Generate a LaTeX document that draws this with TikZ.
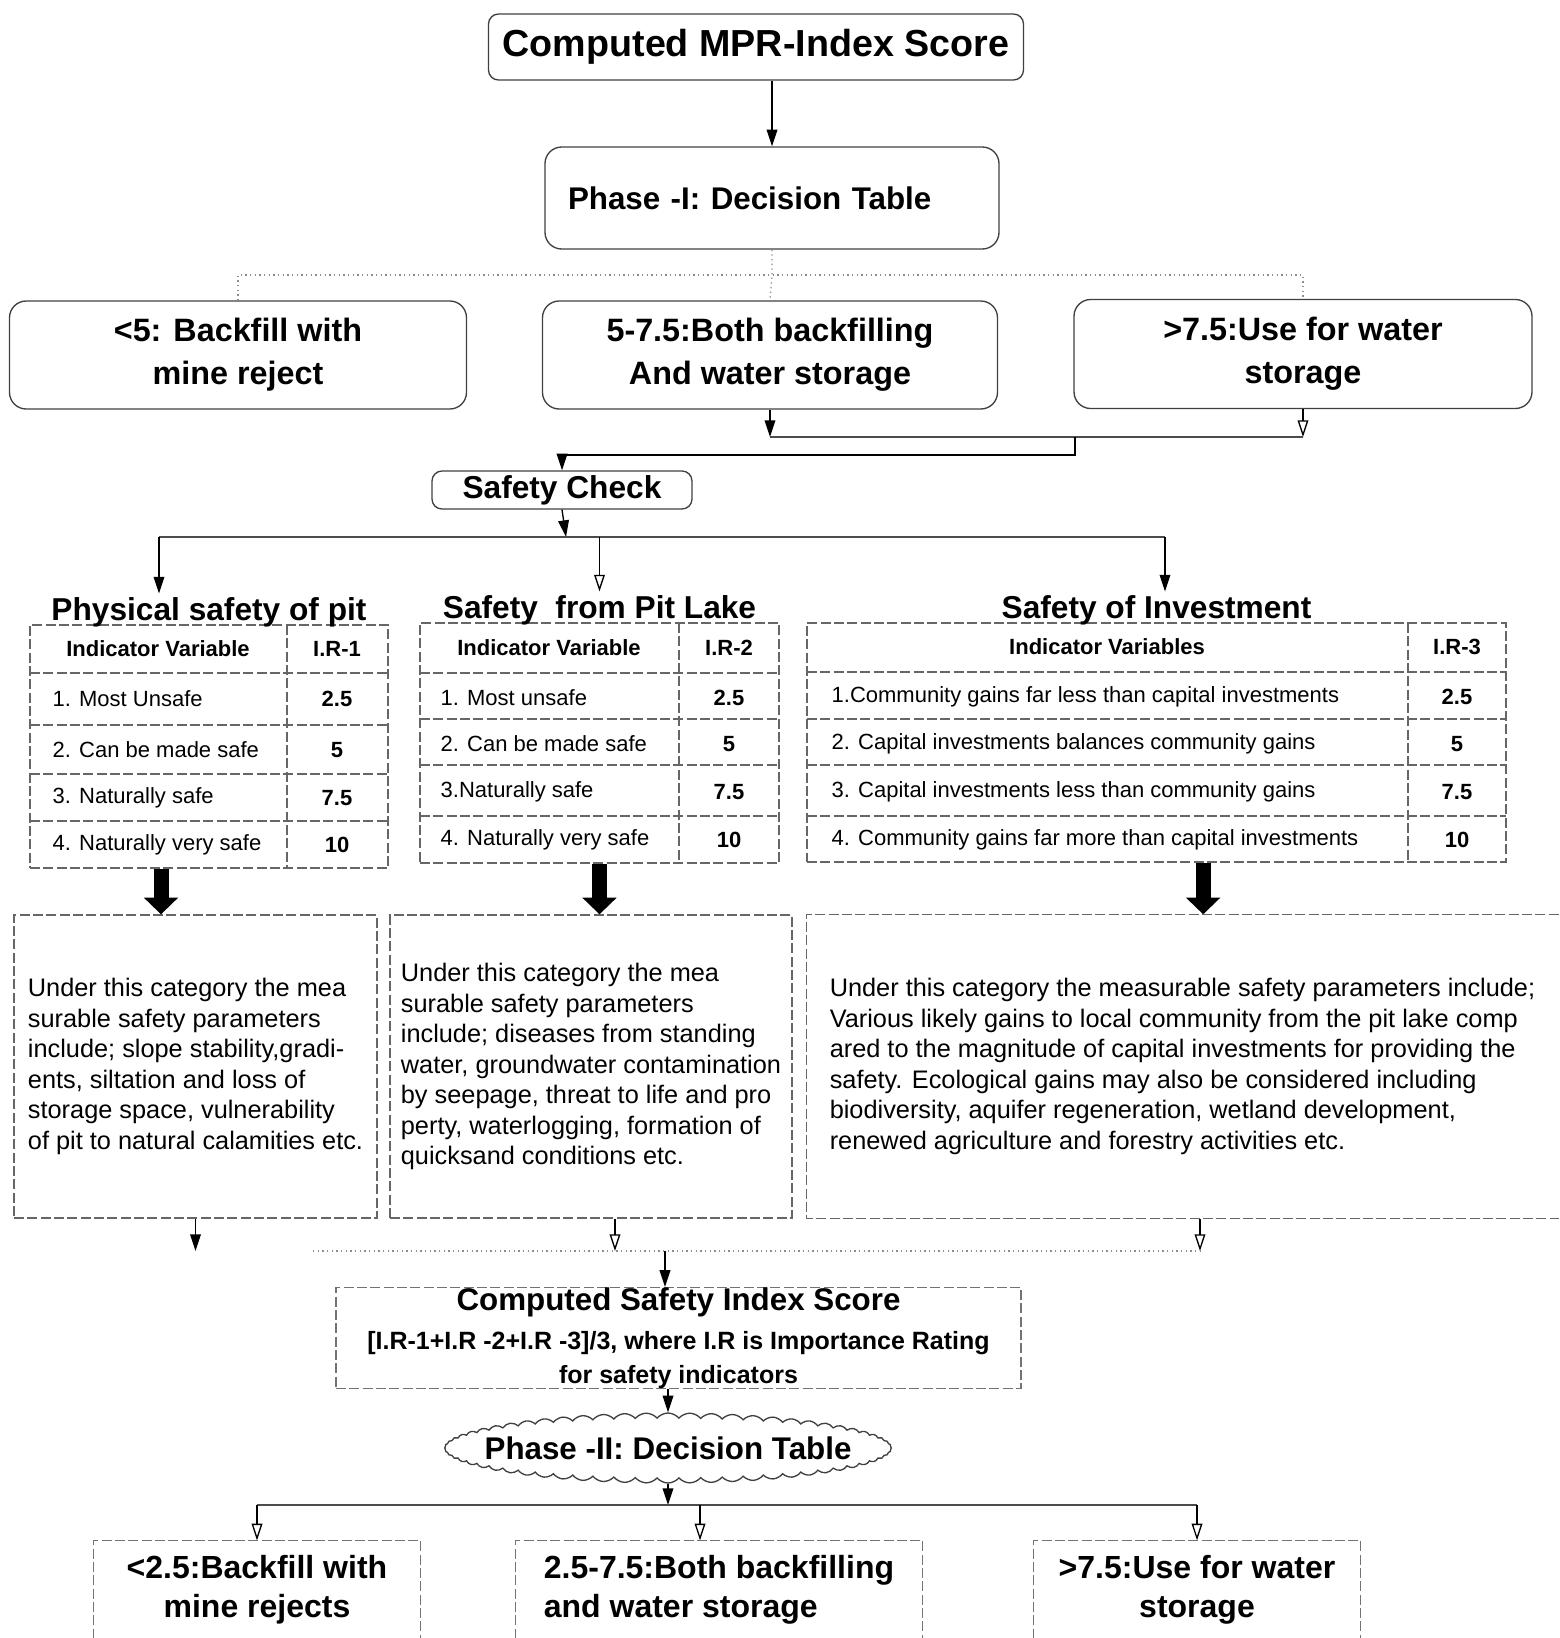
\documentclass[tikz,border=0pt]{standalone}
\usepackage{fontspec}
\setmainfont{Liberation Sans}
\usetikzlibrary{arrows.meta, positioning, shapes.symbols}

\begin{document}
\begin{tikzpicture}[
        x=0.3pt, y=-0.3pt,
        every node/.style={align=center, inner sep=1pt},
        rbox/.style={draw=black!75, thin, rounded corners=5pt, font=\bfseries\fontsize{9.7}{12.9}\selectfont},
        pbox/.style={draw=black!55, thin, dash pattern=on 3pt off 1pt},
        dbox/.style={font=\bfseries\fontsize{9.6}{11.7}\selectfont, minimum height=29.1pt},
        head/.style={font=\bfseries\fontsize{9.5}{11}\selectfont},
        cell/.style={font=\fontsize{6.6}{8}\selectfont, inner sep=0pt},
        val/.style={font=\bfseries\fontsize{6.6}{8}\selectfont, inner sep=0pt},
        body/.style={font=\fontsize{7.6}{9.15}\selectfont, align=left},
        grid/.style={draw=black!60, thin, dash pattern=on 3pt off 1pt},
        line/.style={draw=black!70, thin},
        faint/.style={draw=black!45, thin, densely dotted},
        arrow/.style={-{Triangle[length=5pt, width=3.2pt]}, thin},
        oarrow/.style={-{Triangle[open, length=5pt, width=3.2pt]}, thin},
        bigarrow/.style={-{Triangle[length=5pt, width=10pt]}, line width=4.5pt}
        ]
        \useasboundingbox (0,0) rectangle (1559,1638);

        % Phase I
        \node[rbox, rounded corners=3pt, minimum width=160.5pt, minimum height=19.8pt, font=\bfseries\fontsize{11.3}{13}\selectfont] (mpr) at (756,47) {Computed MPR-Index Score};
        \node[rbox, minimum width=136.2pt, minimum height=30.6pt, text width=122.4pt, inner xsep=6.9pt, align=left, font=\bfseries\fontsize{9.4}{11}\selectfont] (ph1) at (772,198) {Phase -I: Decision Table};
        \draw [arrow] (mpr.south -| ph1.north) -- (ph1.north);

        \node[rbox, minimum width=137.1pt, minimum height=32.4pt] (b1) at (238,355) {<5: Backfill with\\mine reject};
        \node[rbox, minimum width=136.5pt, minimum height=32.4pt] (b2) at (770,355) {5-7.5:Both backfilling\\And water storage};
        \node[rbox, minimum width=137.4pt, minimum height=32.7pt] (b3) at (1303,354) {>7.5:Use for water\\storage};

        \coordinate (split1) at (772,275);
        \draw [faint] (ph1.south) -- (split1) -- (b2.north);
        \draw [faint] (b1.north) -- (b1.north |- split1) -- (b3.north |- split1) -- (b3.north);

        % Safety check
        \node[rbox, rounded corners=3pt, minimum width=78pt, minimum height=11.4pt, inner ysep=0pt, font=\bfseries\fontsize{9.5}{11}\selectfont] (sc) at (562,490) {Safety Check};

        \coordinate (join1) at (1075,437);
        \coordinate (join2) at (1075,455);
        \draw [arrow] (b2.south) -- (b2.south |- join1);
        \draw [oarrow] (b3.south) -- (b3.south |- join1);
        \draw [line] (b2.south |- join1) -- (b3.south |- join1);
        \draw [arrow] (join1) -- (join2) -| (sc.north);

        % Tables
        \node[grid, minimum width=107.4pt, minimum height=72.9pt] (tab1) at (209,746.5) {};
        \node[grid, minimum width=107.7pt, minimum height=72pt] (tab2) at (599.5,743) {};
        \node[grid, minimum width=209.7pt, minimum height=71.7pt] (tab3) at (1156.5,742.5) {};

        \node[head, above=-2pt of tab1] (h1) {Physical safety of pit};
        \node[head, above=-2pt of tab2] (h2) {Safety~ from Pit Lake};
        \node[head, above=-2pt of tab3] (h3) {Safety of Investment};

        \coordinate (split2) at (566,537);
        \coordinate (s1) at (159,537);
        \coordinate (s3) at (1165,537);
        \draw [arrow] (sc.south) -- (split2);
        \draw [line] (s1) -- (s3);
        \draw [arrow] (s1) -- (s1 |- h1.north);
        \draw [oarrow] (h2.north |- split2) -- (h2.north);
        \draw [arrow] (s3) -- (s3 |- h3.north);

        % Table 1
        \foreach \y in {673,725,774,821} \draw [grid] (30,\y) -- (388,\y);
        \draw [grid] (287,625) -- (287,868);
        \node[val] (t1hd) at (158,649) {Indicator Variable};
        \node[val] (t1hr) at (337,649) {I.R-1};
        \foreach \i/\yc/\txt/\val in {1/699/{1. Most Unsafe}/2.5, 2/750/{2. Can be made safe}/5, 3/798/{3. Naturally safe}/7.5, 4/845/{4. Naturally very safe}/10}{
            \node[cell, anchor=west] (t1r\i) at (52,\yc) {\txt};
            \node[val] (t1v\i) at (337,\yc) {\val};
        }

        % Table 2
        \foreach \y in {673,719,765,816} \draw [grid] (420,\y) -- (779,\y);
        \draw [grid] (679,623) -- (679,863);
        \node[val] (t2hd) at (549,648) {Indicator Variable};
        \node[val] (t2hr) at (729,648) {I.R-2};
        \foreach \i/\yc/\txt/\val in {1/698/{1. Most unsafe}/2.5, 2/744/{2. Can be made safe}/5, 3/792/{3.Naturally safe}/7.5, 4/840/{4. Naturally very safe}/10}{
            \node[cell, anchor=west] (t2r\i) at (440,\yc) {\txt};
            \node[val] (t2v\i) at (729,\yc) {\val};
        }

        % Table 3
        \foreach \y in {672,719,765,816} \draw [grid] (807,\y) -- (1506,\y);
        \draw [grid] (1408,623) -- (1408,862);
        \node[val] (t3hd) at (1107,647) {Indicator Variables};
        \node[val] (t3hr) at (1457,647) {I.R-3};
        \foreach \i/\yc/\txt/\val in {1/697/{1.Community gains far less than capital investments}/2.5, 2/744/{2. Capital investments balances community gains}/5, 3/792/{3. Capital investments less than community gains}/7.5, 4/840/{4. Community gains far more than capital investments}/10}{
            \node[cell, anchor=west] (t3r\i) at (831,\yc) {\txt};
            \node[val] (t3v\i) at (1457,\yc) {\val};
        }

        % Descriptions
        \node[grid, body, minimum width=108.9pt, minimum height=90.9pt] (txt1) at (195.5,1066.5) {Under this category the mea\\surable safety parameters\\include; slope stability,gradi-\\ents, siltation and loss of\\storage space, vulnerability\\of pit to natural calamities etc.};
        \node[grid, body, minimum width=120.6pt, minimum height=90.9pt] (txt2) at (591,1066.5) {Under this category the mea\\surable safety parameters\\include; diseases from standing\\water, groundwater contamination\\by seepage, threat to life and pro\\perty, waterlogging, formation of\\quicksand conditions etc.};
        \node[body, minimum width=225.3pt, minimum height=90.9pt] (txt3) at (1182.5,1066.5) {Under this category the measurable safety parameters include;\\Various likely gains to local community from the pit lake comp\\ared to the magnitude of capital investments for providing the\\safety. Ecological gains may also be considered including\\biodiversity, aquifer regeneration, wetland development,\\renewed agriculture and forestry activities etc.};
        \draw [grid] (txt3.north east) -- (txt3.north west) -- (txt3.south west) -- (txt3.south east);

        \draw [bigarrow] ([xshift=-14.4pt]tab1.south) -- ([xshift=-14.4pt]tab1.south |- txt1.north);
        \draw [bigarrow] (tab2.south) -- (tab2.south |- txt2.north);
        \draw [bigarrow] ([xshift=14pt]tab3.south) -- ([xshift=14pt]tab3.south |- txt3.north);

        % Phase II
        \node[pbox, minimum width=205.5pt, minimum height=30pt, inner sep=0pt, font=\bfseries\fontsize{7.5}{10.2}\selectfont] (cs) at (678.5,1338) {{\fontsize{9.4}{11.7}\selectfont Computed Safety Index Score}\\[1.5pt] {[I.R-1+I.R -2+I.R -3]/3, where I.R is Importance Rating}\\ for safety indicators};

        \coordinate (join3) at (665,1251);
        \coordinate (join4) at (313,1251);
        \draw [arrow] (txt1.south) -- (txt1.south |- join3);
        \draw [oarrow] ([xshift=7.2pt]txt2.south) -- ([xshift=7.2pt]txt2.south |- join3);
        \draw [oarrow] ([xshift=5.25pt]txt3.south) -- ([xshift=5.25pt]txt3.south |- join3);
        \draw [faint] (join4) -- ([xshift=5.25pt]txt3.south |- join3);
        \draw [arrow] (join3) -- (join3 |- cs.north);

        \node[draw=black!75, thin, cloud, cloud puffs=64, cloud puff arc=100, cloud ignores aspect, inner sep=0pt, minimum width=134pt, minimum height=21pt, font=\bfseries\fontsize{9.4}{11}\selectfont] (ph2) at (668,1448) {\makebox[0pt]{Phase -II: Decision Table}};
        \draw [arrow] (cs.south -| ph2.north) -- (ph2.north);

        \node[dbox, minimum width=97.8pt] (d1) at (257,1589.5) {<2.5:Backfill with\\mine rejects};
        \node[dbox, minimum width=121.8pt, align=left] (d2) at (719,1589.5) {2.5-7.5:Both backfilling\\and water storage};
        \node[dbox, minimum width=97.8pt] (d3) at (1197,1589.5) {>7.5:Use for water\\storage};
        \foreach \d in {d1,d2,d3}
            \draw [pbox] (\d.south west) -- (\d.north west) -- (\d.north east) -- (\d.south east);

        \coordinate (split3) at (668,1505);
        \draw [arrow] (ph2.south) -- (split3);
        \draw [line] (d1.north |- split3) -- (d3.north |- split3);
        \draw [oarrow] (d1.north |- split3) -- (d1.north);
        \draw [oarrow] ([xshift=-5.7pt]d2.north |- split3) -- ([xshift=-5.7pt]d2.north);
        \draw [oarrow] (d3.north |- split3) -- (d3.north);
    \end{tikzpicture}
\end{document}
